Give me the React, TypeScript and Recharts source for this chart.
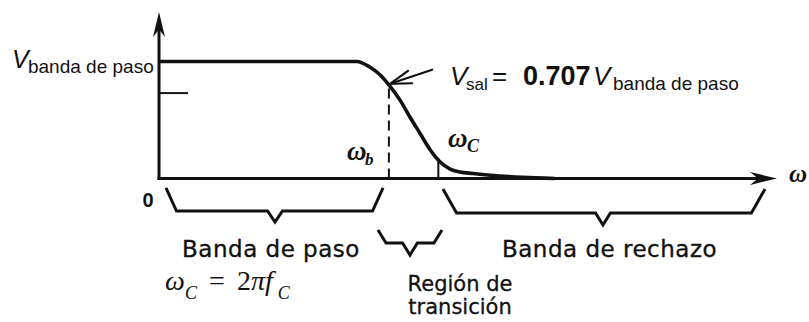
import { ComposedChart, Line, XAxis, YAxis, ReferenceLine, ReferenceDot } from "recharts";

// plot space: whole picture, in normalised units (omega, V / V banda de paso)
const X_DOMAIN: [number, number] = [-2.573, 10.518];
const Y_DOMAIN: [number, number] = [-1.2265, 1.5256];

// response
const omega = [0, 3.2, 3.41, 3.58, 3.72, 3.9, 4.06, 4.22, 4.39, 4.55, 4.71, 4.87, 5.08, 5.36, 5.89, 6.4];
const vOut = [1, 1, 0.953, 0.885, 0.8, 0.67, 0.526, 0.389, 0.244, 0.141, 0.081, 0.056, 0.043, 0.028, 0.01, 0];

const OMEGA_B = 3.72;
const OMEGA_C = 4.52;
const V_B = 0.8;
const V_TICK = 0.73;
const AXIS_X_END = 10;
const AXIS_Y_END = 1.424;

// braces under the axis: pass band, transition, reject band
const braceStart = [0.113, 3.544, 4.595];
const braceEnd = [3.625, 4.579, 9.806];
const braceMid = [1.877, 4.061, 7.184];
const braceTop = [-0.081, -0.44, -0.09];
const braceBar = [-0.278, -0.551, -0.295];
const braceTip = [-0.372, -0.654, -0.397];
const braceSlant = [0.17, 0.13, 0.22];

const INK = "#111";
const SANS = "'Liberation Sans', Arial, sans-serif";
const WIDE = "'DejaVu Sans', sans-serif";
const SERIF = "'Liberation Serif', 'Times New Roman', serif";

const curve = omega.map((w, i) => ({ x: w, y: vOut[i] }));

const braces = braceStart.map((s, i) => {
  const e = braceEnd[i];
  const m = braceMid[i];
  const d = braceSlant[i];
  return [
    { x: s, y: braceTop[i] },
    { x: s + d, y: braceBar[i] },
    { x: m - 0.12, y: braceBar[i] },
    { x: m, y: braceTip[i] },
    { x: m + 0.12, y: braceBar[i] },
    { x: e - d, y: braceBar[i] },
    { x: e, y: braceTop[i] },
  ];
});

const solidArrow = (len: number, hw: number) => (p: any) => {
  const { x1, y1, x2, y2 } = p;
  const a = Math.atan2(y2 - y1, x2 - x1);
  const ux = Math.cos(a);
  const uy = Math.sin(a);
  const bx = x2 - ux * len;
  const by = y2 - uy * len;
  const nx = x2 - ux * len * 0.7;
  const ny = y2 - uy * len * 0.7;
  return (
    <g>
      <line x1={x1} y1={y1} x2={nx} y2={ny} stroke={INK} strokeWidth={3} strokeLinecap="square" />
      <polygon
        points={`${x2},${y2} ${bx - uy * hw},${by + ux * hw} ${nx},${ny} ${bx + uy * hw},${by - ux * hw}`}
        fill={INK}
      />
    </g>
  );
};

const openArrow = (p: any) => {
  const { x1, y1, x2, y2 } = p;
  const a = Math.atan2(y1 - y2, x1 - x2);
  const len = 22;
  const spread = 0.3;
  const b1 = [x2 + Math.cos(a - spread) * len, y2 + Math.sin(a - spread) * len];
  const b2 = [x2 + Math.cos(a + spread) * len, y2 + Math.sin(a + spread) * len];
  return (
    <g stroke={INK} strokeWidth={2.2} fill="none" strokeLinecap="round">
      <line x1={x1} y1={y1} x2={x2} y2={y2} />
      <path d={`M${b1[0]},${b1[1]} L${x2},${y2} L${b2[0]},${b2[1]}`} />
    </g>
  );
};

const plainLine = (width: number, dash?: string) => (p: any) => (
  <line x1={p.x1} y1={p.y1} x2={p.x2} y2={p.y2} stroke={INK} strokeWidth={width} strokeDasharray={dash} />
);

const mark = (key: string, x: number, y: number, draw: (cx: number, cy: number) => any) => (
  <ReferenceDot
    key={key}
    x={x}
    y={y}
    r={0}
    ifOverflow="visible"
    shape={(p: any) => draw(p.cx, p.cy)}
  />
);

export default function App() {
  return (
    <div style={{ position: "absolute", left: 0, top: 0, background: "#fff" }}>
      <ComposedChart width={809} height={322} margin={{ top: 0, right: 0, bottom: 0, left: 0 }}>
        <XAxis type="number" dataKey="x" domain={X_DOMAIN} allowDataOverflow hide />
        <YAxis type="number" dataKey="y" domain={Y_DOMAIN} allowDataOverflow hide />

        <ReferenceLine segment={[{ x: 0, y: 0 }, { x: 0, y: AXIS_Y_END }]} shape={solidArrow(25, 6)} />
        <ReferenceLine segment={[{ x: 0, y: 0 }, { x: AXIS_X_END, y: 0 }]} shape={solidArrow(27, 6.5)} />
        <ReferenceLine segment={[{ x: 0, y: V_TICK }, { x: 0.47, y: V_TICK }]} shape={plainLine(2)} />
        <ReferenceLine segment={[{ x: OMEGA_B, y: 0 }, { x: OMEGA_B, y: V_B }]} shape={plainLine(2, "10 6")} />
        <ReferenceLine segment={[{ x: OMEGA_C, y: 0 }, { x: OMEGA_C, y: 0.175 }]} shape={plainLine(2)} />
        <ReferenceLine segment={[{ x: 4.42, y: 0.93 }, { x: OMEGA_B + 0.02, y: V_B + 0.01 }]} shape={openArrow} />

        <Line
          data={curve}
          dataKey="y"
          type="monotone"
          stroke={INK}
          strokeWidth={3.6}
          dot={false}
          activeDot={false}
          legendType="none"
          isAnimationActive={false}
        />
        {braces.map((b, i) => (
          <Line
            key={`brace-${i}`}
            data={b}
            dataKey="y"
            type="linear"
            stroke={INK}
            strokeWidth={3}
            dot={false}
            activeDot={false}
            legendType="none"
            isAnimationActive={false}
          />
        ))}

        {mark("vbp", -2.379, 0.944, (cx, cy) => (
          <text x={cx} y={cy} fill={INK} fontFamily={SANS}>
            <tspan fontSize={25} fontStyle="italic">V</tspan>
            <tspan x={cx + 16} dy={5} fontSize={19}>banda de paso</tspan>
          </text>
        ))}
        {mark("vsal", 4.709, 0.799, (cx, cy) => (
          <text x={cx} y={cy} fill={INK} fontFamily={SANS}>
            <tspan fontSize={26} fontStyle="italic">V</tspan>
            <tspan x={cx + 16} dy={5} fontSize={17}>sal</tspan>
            <tspan x={cx + 42} dy={-5} fontSize={26}>=</tspan>
            <tspan x={cx + 73} fontSize={27} fontWeight="bold">0.707</tspan>
            <tspan x={cx + 143} fontSize={26} fontStyle="italic">V</tspan>
            <tspan x={cx + 163} dy={5} fontSize={19}>banda de paso</tspan>
          </text>
        ))}
        {mark("zero", -0.178, -0.244, (cx, cy) => (
          <text x={cx} y={cy} textAnchor="middle" fontFamily={SANS} fontWeight="bold" fontSize={20} fill={INK}>
            0
          </text>
        ))}
        {mark("wb", 3.042, 0.158, (cx, cy) => (
          <text x={cx} y={cy} fill={INK} fontFamily={SERIF} fontWeight="bold" fontStyle="italic">
            <tspan fontSize={27}>ω</tspan>
            <tspan x={cx + 18} dy={5} fontSize={17}>b</tspan>
          </text>
        ))}
        {mark("wc", 4.676, 0.269, (cx, cy) => (
          <text x={cx} y={cy} fill={INK} fontFamily={SERIF} fontWeight="bold" fontStyle="italic">
            <tspan fontSize={27}>ω</tspan>
            <tspan x={cx + 19} dy={5} fontSize={18}>C</tspan>
          </text>
        ))}
        {mark("w", 10.195, -0.03, (cx, cy) => (
          <text x={cx} y={cy} fill={INK} fontFamily={SERIF} fontWeight="bold" fontStyle="italic" fontSize={25}>
            ω
          </text>
        ))}
        {mark("paso", 1.812, -0.671, (cx, cy) => (
          <text x={cx} y={cy} textAnchor="middle" fontFamily={WIDE} fontSize={23} letterSpacing={0.5}
            fill={INK} stroke={INK} strokeWidth={0.35}>
            Banda de paso
          </text>
        ))}
        {mark("rechazo", 7.29, -0.671, (cx, cy) => (
          <text x={cx} y={cy} textAnchor="middle" fontFamily={WIDE} fontSize={23} letterSpacing={0.5}
            fill={INK} stroke={INK} strokeWidth={0.35}>
            Banda de rechazo
          </text>
        ))}
        {mark("region", 4.871, -0.962, (cx, cy) => (
          <text x={cx} y={cy} textAnchor="middle" fontFamily={WIDE} fontSize={21}
            fill={INK} stroke={INK} strokeWidth={0.3}>
            <tspan x={cx}>Región de</tspan>
            <tspan x={cx} dy={23}>transición</tspan>
          </text>
        ))}
        {mark("formula", 0.097, -0.953, (cx, cy) => (
          <text x={cx} y={cy} fill={INK} fontFamily={SERIF} fontSize={28}>
            <tspan fontStyle="italic">ω</tspan>
            <tspan x={cx + 20} dy={9} fontSize={18} fontStyle="italic">C</tspan>
            <tspan x={cx + 44} dy={-9}>=</tspan>
            <tspan x={cx + 72}>2</tspan>
            <tspan fontStyle="italic">πf</tspan>
            <tspan dx={5} dy={9} fontSize={18} fontStyle="italic">C</tspan>
          </text>
        ))}
      </ComposedChart>
    </div>
  );
}
